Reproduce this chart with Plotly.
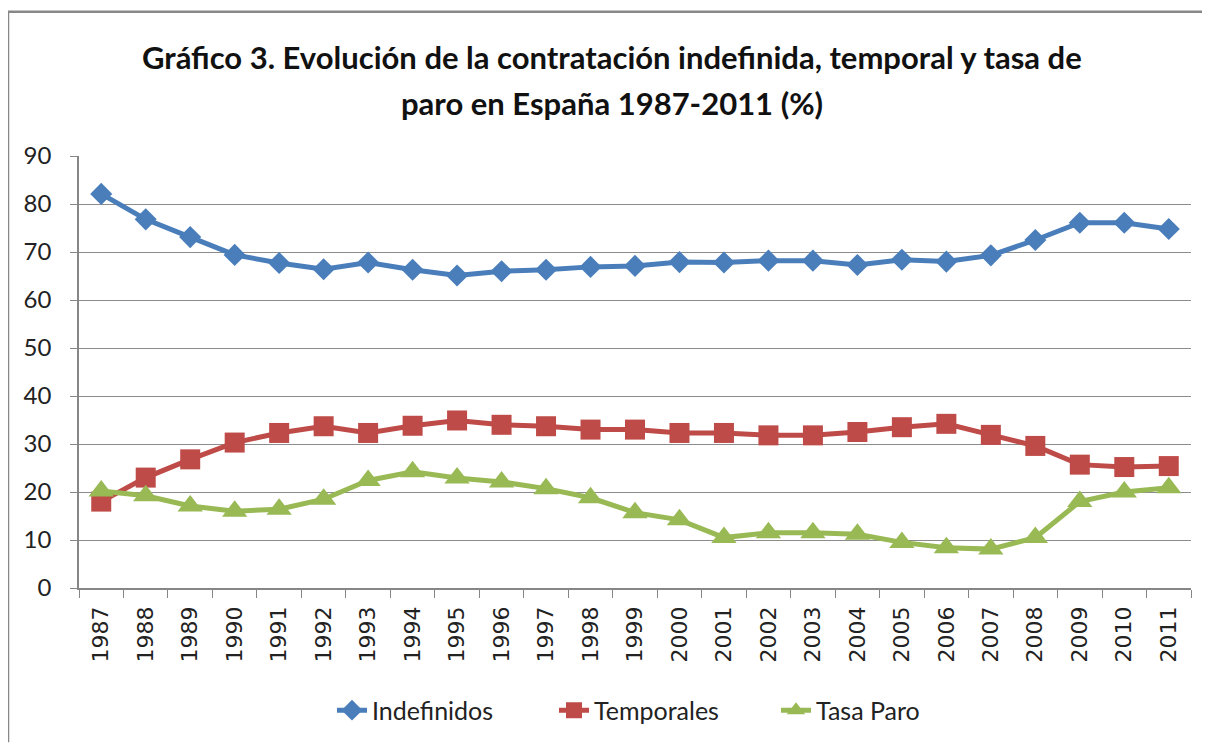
import plotly.graph_objects as go

years = [str(y) for y in range(1987, 2012)]
indefinidos = [82.1, 76.8, 73.1, 69.4, 67.7, 66.4, 67.8, 66.3, 65.1, 66.0, 66.3, 66.9, 67.1,
               67.9, 67.8, 68.2, 68.2, 67.3, 68.4, 68.0, 69.3, 72.5, 76.1, 76.1, 74.8]
temporales = [18.0, 23.0, 26.8, 30.3, 32.3, 33.7, 32.3, 33.8, 34.9, 34.0, 33.7, 33.0, 33.0,
              32.3, 32.3, 31.8, 31.8, 32.5, 33.5, 34.2, 31.9, 29.6, 25.7, 25.2, 25.4]
tasa_paro = [20.2, 19.2, 17.1, 16.0, 16.4, 18.5, 22.4, 24.2, 22.9, 22.1, 20.7, 18.8, 15.7,
             14.2, 10.5, 11.5, 11.5, 11.2, 9.5, 8.4, 8.1, 10.5, 18.0, 20.0, 20.9]
y_ticks = list(range(0, 100, 10))

# page body has an 8px margin; figure coordinates are page coordinates minus 8
OFF = 8
W, H = 1210 - 2 * OFF, 753 - 2 * OFF
ML = 79 - OFF
MR = W - (1191 - OFF)
MT = 156 - OFF
MB = H - (590 - OFF)
PW, PH = W - ML - MR, H - MT - MB


def px(x):
    return (x - OFF - ML) / PW


def py(y):
    return (H - MB - (y - OFF)) / PH


fig = go.Figure()
series = [
    ("Indefinidos", indefinidos, "#4A7EBB", "diamond", 17),
    ("Temporales", temporales, "#BE4B48", "square", 20),
    ("Tasa Paro", tasa_paro, "#98B954", "triangle-up", 22),
]
for name, vals, col, sym, sz in series:
    fig.add_trace(go.Scatter(
        x=years, y=vals, name=name, mode="lines+markers",
        line=dict(color=col, width=5),
        marker=dict(symbol=sym, size=sz, color=col, line=dict(width=0)),
    ))

fig.update_layout(
    width=W, height=H,
    margin=dict(l=ML, r=MR, t=MT, b=MB),
    paper_bgcolor="white", plot_bgcolor="white",
    showlegend=True,
    legend=dict(orientation="h", x=px(332), xanchor="left", y=py(713), yanchor="middle",
                font=dict(family="Lato", size=25, color="#222222"),
                entrywidth=177, entrywidthmode="pixels", tracegroupgap=0),
    xaxis=dict(type="category", range=[-0.5, 24.5], showgrid=False,
               showline=True, linecolor="#868686", linewidth=1.5,
               ticks="outside", tickson="boundaries", ticklen=8, tickcolor="#868686",
               tickangle=-90, ticklabelstandoff=8,
               tickfont=dict(family="DejaVu Sans", size=22, color="#222222")),
    yaxis=dict(range=[0, 90], tickvals=y_ticks, showgrid=True, gridcolor="#8C8C8C", gridwidth=1,
               showline=True, linecolor="#868686", linewidth=1.5, zeroline=False,
               ticks="outside", ticklen=7, tickcolor="#868686", ticklabelstandoff=14,
               tickfont=dict(family="Lato", size=24, color="#222222")),
    annotations=[
        dict(text="Gráfico 3. Evolución de la contratación indefinida, temporal y tasa de",
             xref="paper", yref="paper", x=px(612), y=py(57), xanchor="center", yanchor="middle",
             showarrow=False, font=dict(family="Lato", size=31, color="#111111", weight="bold")),
        dict(text="paro en España 1987-2011 (%)",
             xref="paper", yref="paper", x=px(612), y=py(103), xanchor="center", yanchor="middle",
             showarrow=False, font=dict(family="Lato", size=31, color="#111111", weight="bold")),
    ],
    shapes=[
        dict(type="line", xref="paper", yref="paper", x0=px(8), x1=px(W + OFF), y0=py(11), y1=py(11),
             line=dict(color="#888888", width=2.5)),
        dict(type="line", xref="paper", yref="paper", x0=px(8), x1=px(8), y0=py(11), y1=py(H + OFF),
             line=dict(color="#888888", width=2.5)),
    ],
)

fig.write_html("out.html")
